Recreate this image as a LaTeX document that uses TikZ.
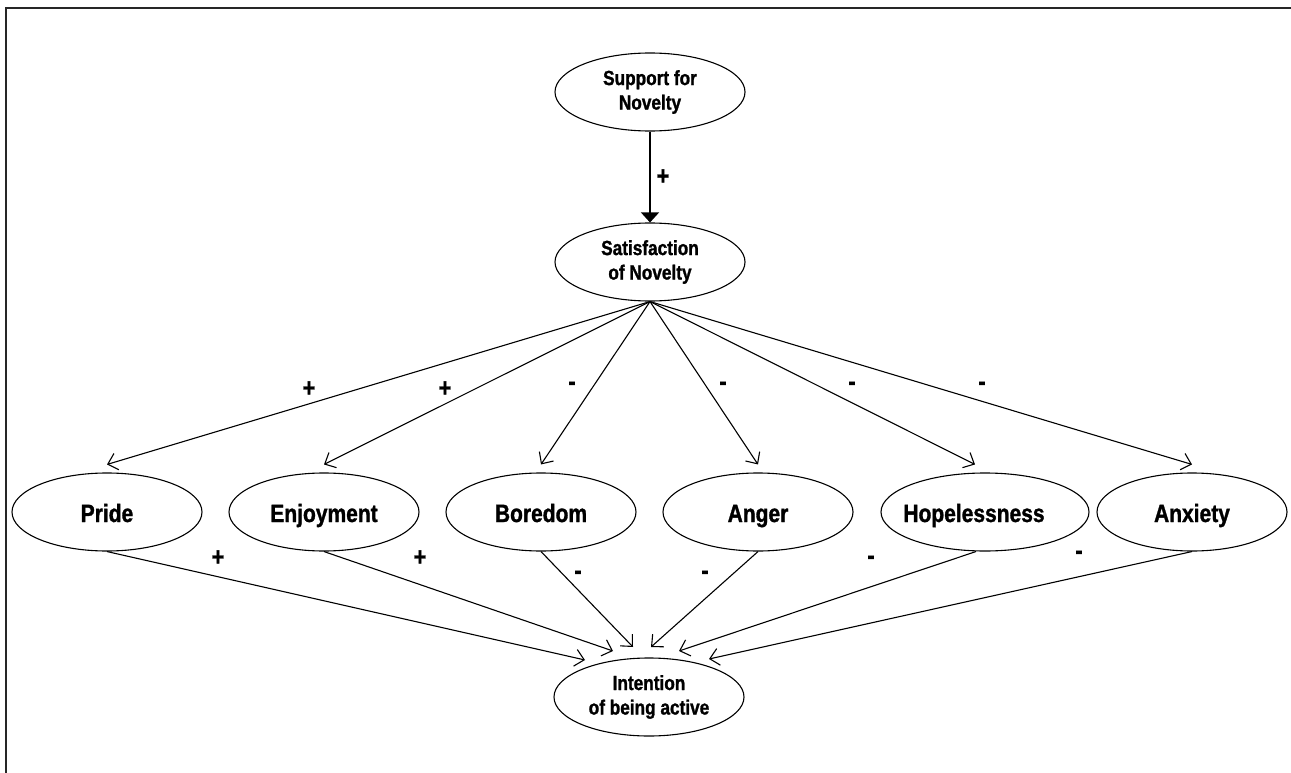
\documentclass[tikz,border=0pt]{standalone}
\usepackage{fontspec}
\setmainfont{Liberation Sans}[FakeStretch=0.84, BoldFeatures={FakeBold=1.2}]
\usetikzlibrary{shapes.geometric,arrows.meta,calc}
\newcommand{\nb}[1]{\makebox[0pt]{#1}}
\tikzset{
  ell/.style={draw, ellipse, line width=1.1pt, inner sep=0pt,
    minimum width=190pt, minimum height=78pt, font=\bfseries\fontsize{20.5}{24.5}\selectfont, align=center},
  emo/.style={ell, font=\bfseries\fontsize{25}{30}\selectfont, text height=20pt, text depth=0pt},
  edge/.style={line width=1.1pt, -{Straight Barb[length=9pt,width=17pt,line width=1.1pt]}},
  bigedge/.style={line width=1.1pt, -{Triangle[length=10pt,width=18pt]}},
  sign/.style={inner sep=0pt, font=\bfseries\fontsize{26}{30}\selectfont}
}
\begin{document}
\begin{tikzpicture}[x=1pt,y=-1pt]
\useasboundingbox (0,0) rectangle (1291,773);
\fill[white] (0,0) rectangle (1291,773);
\draw[line width=1.4pt, black!85] (1291,8) -- (6,8) -- (6,773);

\node[ell] (sup) at (650,92) {Support for\\Novelty};
\node[ell] (sat) at (650,262) {Satisfaction\\of Novelty};
\node[emo] (pride) at (107,512) {\nb{Pride}};
\node[emo] (enj) at (324,512) {\nb{Enjoyment}};
\node[emo] (bor) at (541,512) {\nb{Boredom}};
\node[emo] (ang) at (758,512) {\nb{Anger}};
\node[emo, minimum width=208pt] (hop) at (985,512) {\nb{\hspace*{-22pt}Hopelessness}};
\node[emo] (anx) at (1192,512) {\nb{Anxiety}};
\node[ell] (int) at (649,697) {Intention\\of being active};

\draw[bigedge] (sup.south) -- (sat.north);
\node[sign] (s0) at (663,177) {+};

\foreach \n in {pride,enj,bor,ang,anx}{
  \draw[edge] (sat.south) -- ([yshift=8pt]\n.north);
}
\draw[edge] (sat.south) -- ([xshift=-10pt,yshift=8pt]hop.north);
\node[sign] (u1) at (309,389) {+};
\node[sign] (u2) at (445,389) {+};
\node[sign] (u3) at (572,386) {-};
\node[sign] (u4) at (723,386) {-};
\node[sign] (u5) at (852,386) {-};
\node[sign] (u6) at (982,386) {-};

\coordinate (t1) at (585,660);
\coordinate (t2) at (613,651);
\coordinate (t3) at (633,647);
\coordinate (t4) at (651,647);
\coordinate (t5) at (679,651);
\coordinate (t6) at (709,659);
\draw[edge] (pride.south) -- (t1);
\draw[edge] (enj.south) -- (t2);
\draw[edge] (bor.south) -- (t3);
\draw[edge] (ang.south) -- (t4);
\draw[edge] ([xshift=-9pt]hop.south) -- (t5);
\draw[edge] (anx.south) -- (t6);
\node[sign] (l1) at (218,558) {+};
\node[sign] (l2) at (420,558) {+};
\node[sign] (l3) at (578,575) {-};
\node[sign] (l4) at (705,575) {-};
\node[sign] (l5) at (871,560) {-};
\node[sign] (l6) at (1079,555) {-};
\end{tikzpicture}
\end{document}
